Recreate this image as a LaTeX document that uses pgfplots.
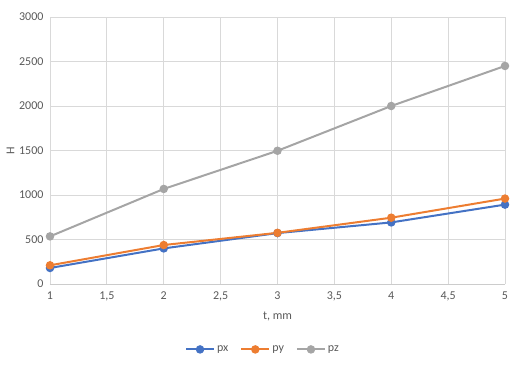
\documentclass[border=0pt]{standalone}
\usepackage{pgfplots}
\pgfplotsset{compat=1.18}
\usepackage{fontspec}
\setmainfont{Carlito}
\definecolor{cblue}{HTML}{4472C4}
\definecolor{corange}{HTML}{ED7D31}
\definecolor{cgrey}{HTML}{A5A5A5}
\definecolor{tgrey}{HTML}{595959}
\definecolor{gridc}{HTML}{D9D9D9}
\begin{document}
\begin{tikzpicture}[x=1pt,y=1pt]
\path[use as bounding box] (-50,-81) rectangle (465,284);
\begin{axis}[
  at={(0,0)}, anchor=origin,
  scale only axis, width=455pt, height=267pt,
  xmin=1, xmax=5, ymin=0, ymax=3000,
  xtick={1,1.5,...,5}, ytick={0,500,...,3000},
  grid=major, grid style={gridc, line width=0.75pt},
  axis line style={draw=gridc, line width=0.75pt},
  axis lines*=left,
  x axis line style={draw=gridc!80!black!30!gridc},
  major tick length=0pt,
  tick label style={font=\fontsize{12}{14}\selectfont, text=tgrey},
  /pgf/number format/assume math mode=true,
  /pgf/number format/use comma,
  /pgf/number format/1000 sep={},
  xticklabel style={yshift=-4pt},
  yticklabel style={xshift=-3pt},
  xlabel={t, mm}, ylabel={Н},
  label style={font=\fontsize{12}{14}\selectfont, text=tgrey},
  xlabel style={yshift=-4pt},
  ylabel style={yshift=-2pt},
  legend style={at={(0.468,-0.245)}, anchor=center, draw=none, fill=none,
    legend columns=3, font=\fontsize{12}{14}\selectfont, text=tgrey,
    /tikz/every even column/.append style={column sep=10pt}},
  legend image code/.code={
    \draw[#1, mark=none] (0pt,0pt) -- (28pt,0pt);
    \fill[#1] (14pt,0pt) circle (3.2pt);
  },
  every axis plot/.append style={line width=2pt, mark=*, mark size=3.2pt},
]
\addplot[cblue, mark options={fill=cblue, draw=cblue}] coordinates {(1,180) (2,400) (3,572) (4,692) (5,892)};
\addplot[corange, mark options={fill=corange, draw=corange}] coordinates {(1,210) (2,438) (3,575) (4,745) (5,960)};
\addplot[cgrey, mark options={fill=cgrey, draw=cgrey}] coordinates {(1,535) (2,1068) (3,1497) (4,2000) (5,2450)};
\legend{px, py, pz}
\end{axis}
\end{tikzpicture}
\end{document}
